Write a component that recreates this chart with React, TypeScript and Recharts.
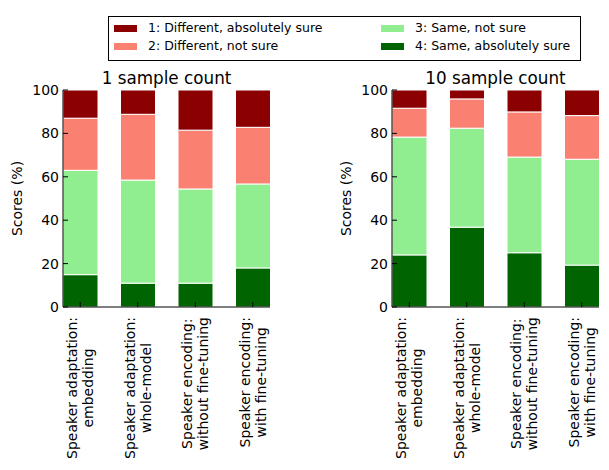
import { Bar, BarChart, XAxis, YAxis } from 'recharts';

// category labels, one entry per bar, each split into its two lines
const categories = [
  ['Speaker adaptation:', 'embedding'],
  ['Speaker adaptation:', 'whole-model'],
  ['Speaker encoding:', 'without fine-tuning'],
  ['Speaker encoding:', 'with fine-tuning'],
];

const seriesNames = [
  '1: Different, absolutely sure',
  '2: Different, not sure',
  '3: Same, not sure',
  '4: Same, absolutely sure',
];
const seriesKeys = ['s1', 's2', 's3', 's4'];
const seriesColors = ['#8b0000', '#fa8072', '#90ee90', '#006400'];

// 1 sample count (%)
const oneDiffSure = [13.0, 11.2, 18.5, 17.2];
const oneDiffNotSure = [24.0, 30.3, 27.1, 26.1];
const oneSameNotSure = [48.1, 47.5, 43.4, 38.7];
const oneSameSure = [14.9, 11.0, 11.0, 18.0];

// 10 sample count (%)
const tenDiffSure = [8.4, 4.1, 10.1, 11.8];
const tenDiffNotSure = [13.3, 13.5, 20.8, 20.1];
const tenSameNotSure = [54.3, 45.6, 44.1, 48.8];
const tenSameSure = [24.0, 36.8, 25.0, 19.3];

const yTicks = [0, 20, 40, 60, 80, 100];
const positions = categories.map((_, i) => i);

function buildRows(s1: number[], s2: number[], s3: number[], s4: number[]) {
  return categories.map((_, i) => ({ pos: i, s1: s1[i], s2: s2[i], s3: s3[i], s4: s4[i] }));
}

const oneRows = buildRows(oneDiffSure, oneDiffNotSure, oneSameNotSure, oneSameSure);
const tenRows = buildRows(tenDiffSure, tenDiffNotSure, tenSameNotSure, tenSameSure);

const FONT = '"DejaVu Sans", sans-serif';
const TICK_FONT = 14;

let ctx: CanvasRenderingContext2D | null = null;
function measure(text: string) {
  if (!ctx) ctx = document.createElement('canvas').getContext('2d');
  if (!ctx) return text.length * 8;
  ctx.font = `${TICK_FONT}px ${FONT}`;
  return ctx.measureText(text).width;
}

function CategoryTick(props: any) {
  const { x, y, payload } = props;
  const lines = categories[payload.value] ?? [];
  const maxW = Math.max(...lines.map(measure));
  const lineGap = 16;
  const cx = x - maxW / 2;
  return (
    <g transform={`rotate(-90, ${x}, ${y})`}>
      {lines.map((line, i) => (
        <text
          key={i}
          x={cx}
          y={y + (i - (lines.length - 1) / 2) * lineGap}
          textAnchor="middle"
          dominantBaseline="central"
          fontSize={TICK_FONT}
          fill="#000"
        >
          {line}
        </text>
      ))}
    </g>
  );
}

function YLabel(props: any) {
  const vb = props.viewBox;
  if (!vb) return null;
  const x = vb.x + 17;
  const y = vb.y + vb.height / 2;
  return (
    <text
      x={x}
      y={y}
      transform={`rotate(-90, ${x}, ${y})`}
      textAnchor="middle"
      dominantBaseline="central"
      fontSize={TICK_FONT}
      fill="#000"
    >
      Scores (%)
    </text>
  );
}

function Panel({ title, rows, left }: { title: string; rows: any[]; left: number }) {
  return (
    <div style={{ position: 'absolute', left, top: 0, width: 280, height: 470 }}>
      <div
        style={{
          position: 'absolute',
          left: 63,
          width: 207,
          top: 68,
          textAlign: 'center',
          fontSize: 16.8,
          lineHeight: '20px',
        }}
      >
        {title}
      </div>
      <BarChart
        width={280}
        height={470}
        data={rows}
        margin={{ top: 90, right: 10, bottom: 0, left: 0 }}
        barCategoryGap="20%"
      >
        <XAxis
          xAxisId="bottom"
          type="number"
          dataKey="pos"
          domain={[-0.3, 3.3]}
          ticks={positions}
          interval={0}
          height={163}
          tickSize={-5}
          tickMargin={15}
          tick={<CategoryTick />}
          stroke="#000"
        />
        <XAxis
          xAxisId="top"
          orientation="top"
          type="number"
          dataKey="pos"
          domain={[-0.3, 3.3]}
          ticks={positions}
          interval={0}
          height={0}
          tickSize={-5}
          tick={false}
          stroke="#000"
        />
        <YAxis
          yAxisId="left"
          domain={[0, 100]}
          ticks={yTicks}
          interval={0}
          width={63}
          tickSize={-5}
          tickMargin={9}
          tick={{ fill: '#000', fontSize: TICK_FONT }}
          stroke="#000"
          label={<YLabel />}
        />
        <YAxis
          yAxisId="right"
          orientation="right"
          domain={[0, 100]}
          ticks={yTicks}
          interval={0}
          width={0}
          tickSize={-5}
          tick={false}
          stroke="#000"
        />
        {[3, 2, 1, 0].map((k) => (
          <Bar
            key={seriesKeys[k]}
            dataKey={seriesKeys[k]}
            name={seriesNames[k]}
            stackId="a"
            xAxisId="bottom"
            yAxisId="left"
            fill={seriesColors[k]}
            stroke="#fff"
            strokeWidth={1}
            isAnimationActive={false}
          />
        ))}
      </BarChart>
    </div>
  );
}

function Legend() {
  return (
    <div
      style={{
        position: 'absolute',
        left: 108,
        top: 16,
        width: 466,
        height: 41,
        border: '1px solid #000',
        display: 'grid',
        gridTemplateColumns: '267px auto',
        gridAutoFlow: 'column',
        gridTemplateRows: '18px 18px',
        padding: '2px 0 0 5px',
        boxSizing: 'content-box',
        fontSize: 12.5,
      }}
    >
      {seriesNames.map((name, i) => (
        <div key={name} style={{ display: 'flex', alignItems: 'center', lineHeight: '18px' }}>
          <span
            style={{ width: 23, height: 7, background: seriesColors[i], marginRight: 11, flex: 'none' }}
          />
          <span>{name}</span>
        </div>
      ))}
    </div>
  );
}

export default function App() {
  return (
    <div
      style={{
        position: 'absolute',
        left: 0,
        top: 0,
        width: 609,
        height: 470,
        background: '#fff',
        fontFamily: FONT,
        color: '#000',
      }}
    >
      <Legend />
      <Panel title="1 sample count" rows={oneRows} left={0} />
      <Panel title="10 sample count" rows={tenRows} left={329} />
    </div>
  );
}
